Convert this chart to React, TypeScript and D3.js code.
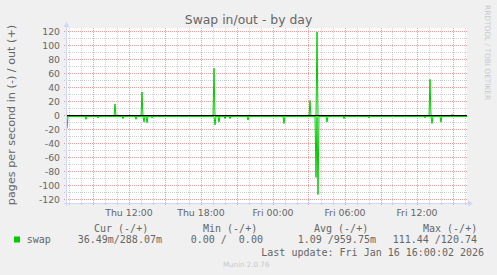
import React from "react";
import * as d3 from "d3";

// ---- data ----
const startTime = "2026-01-15 06:50";
const endTime = "2026-01-16 16:10";
const yTicks = [120, 100, 80, 60, 40, 20, 0, -20, -40, -60, -80, -100, -120];
const xLabelTimes = ["2026-01-15 12:00", "2026-01-15 18:00", "2026-01-16 00:00", "2026-01-16 06:00", "2026-01-16 12:00"];

// swap out (+), pages per second, non-zero samples
const outTimes = ["2026-01-15 10:50", "2026-01-15 13:05", "2026-01-15 19:05", "2026-01-16 03:05", "2026-01-16 03:40", "2026-01-16 13:05", "2026-01-16 14:55", "2026-01-16 15:10"];
const outValues = [18, 35, 69, 23, 120.74, 53, 3, 2];

// swap in (-), pages per second, non-zero samples
const inTimes = ["2026-01-15 06:50", "2026-01-15 08:25", "2026-01-15 09:25", "2026-01-15 11:30", "2026-01-15 12:35", "2026-01-15 13:15", "2026-01-15 13:30", "2026-01-15 13:55", "2026-01-15 19:10", "2026-01-15 19:30", "2026-01-15 20:00", "2026-01-15 20:25", "2026-01-15 21:55", "2026-01-16 00:55", "2026-01-16 03:35", "2026-01-16 03:45", "2026-01-16 04:30", "2026-01-16 05:55", "2026-01-16 08:00", "2026-01-16 12:40", "2026-01-16 13:15", "2026-01-16 14:00"];
const inValues = [17, 4, 2, 3, 4, 8, 9, 2, 12, 8, 3, 3, 5, 10, 87, 111.44, 8, 3, 2, 2, 10, 8];

const legendHeaders = ["Cur (-/+)", "Min (-/+)", "Avg (-/+)", "Max (-/+)"];
const legendValues = ["36.49m/288.07m", "0.00 /  0.00", "1.09 /959.75m", "111.44 /120.74"];
const seriesName = "swap";
const title = "Swap in/out - by day";
const yLabel = "pages per second in (-) / out (+)";
const lastUpdate = "Last update: Fri Jan 16 16:00:02 2026";

// ---- helpers ----
const parse = d3.timeParse("%Y-%m-%d %H:%M");
const t0 = parse(startTime)!;
const t1 = parse(endTime)!;

function buildSeries(times: string[], values: number[]) {
  const m = new Map<number, number>();
  times.forEach((t, i) => m.set(parse(t)!.getTime(), values[i]));
  return d3.timeMinute.every(5)!.range(t0, new Date(t1.getTime() + 1)).map((d) => ({
    t: d,
    v: m.get(d.getTime()) ?? 0,
  }));
}

const GREEN = "#00CC00";
const FONT = "DejaVu Sans, sans-serif";
const MONO = "DejaVu Sans Mono, monospace";
const TXT = "#666666";
const AXIS = "#CFD6F8";
const MGRID = "rgba(224,80,80,0.55)";
const GRID = "rgba(128,128,128,0.36)";

export default function App() {
  const L = 67, R = 467, T = 28, B = 203;
  const x = d3.scaleTime().domain([t0, t1]).range([L, R]);
  const y = d3.scaleLinear().domain([-125, 125]).range([B, T]);

  const outSeries = buildSeries(outTimes, outValues);
  const inSeries = buildSeries(inTimes, inValues);

  const lineOut = d3.line<{ t: Date; v: number }>().x((d) => x(d.t)).y((d) => y(d.v));
  const lineIn = d3.line<{ t: Date; v: number }>().x((d) => x(d.t)).y((d) => y(-d.v));

  const hours = d3.timeHour.range(t0, t1);
  const minorX = hours.filter((h) => h.getHours() % 3 !== 0);
  const majorX = hours.filter((h) => h.getHours() % 3 === 0);
  const minorY = d3.range(-120, 121, 10).filter((v) => v % 20 !== 0);
  const majorY = yTicks;
  const fmt = d3.timeFormat("%a %H:%M");
  const snap = (v: number) => Math.floor(v) + 0.5;

  const legendHeaderX = [94, 203, 314, 423];
  const legendValueX = [77.7, 190.7, 297.7, 392.7];

  return (
    <svg width={497} height={275} style={{ position: "fixed", left: 0, top: 0, display: "block" }}>
      <rect x={0} y={0} width={497} height={275} fill="#F0F0F0" />
      <rect x={L} y={T} width={R - L} height={B - T} fill="#FFFFFF" />

      {/* minor grid */}
      {minorX.map((h, i) => (
        <line key={"mx" + i} x1={snap(x(h))} x2={snap(x(h))} y1={T} y2={B + 3} stroke={GRID} strokeDasharray="1,1" />
      ))}
      {minorY.map((v, i) => (
        <line key={"my" + i} x1={L - 3} x2={R} y1={snap(y(v))} y2={snap(y(v))} stroke={GRID} strokeDasharray="1,1" />
      ))}
      {/* major grid */}
      {majorX.map((h, i) => (
        <line key={"Mx" + i} x1={snap(x(h))} x2={snap(x(h))} y1={T} y2={B + 3} stroke={MGRID} strokeDasharray="1,1" />
      ))}
      {majorY.map((v, i) => (
        <line key={"My" + i} x1={L - 3} x2={R} y1={snap(y(v))} y2={snap(y(v))} stroke={MGRID} strokeDasharray="1,1" />
      ))}

      {/* data */}
      <g transform="translate(0,1)">
        <path d={lineIn(inSeries) || ""} fill="none" stroke={GREEN} strokeWidth={1} />
        <path d={lineOut(outSeries) || ""} fill="none" stroke={GREEN} strokeWidth={1} />
      </g>
      {/* zero line */}
      <line x1={L} x2={R} y1={snap(y(0))} y2={snap(y(0))} stroke="#000" strokeWidth={1} />

      {/* axes */}
      <line x1={L - 0.5} x2={L - 0.5} y1={B + 3} y2={T - 2} stroke={AXIS} />
      <line x1={L - 3} x2={R + 2} y1={B + 0.5} y2={B + 0.5} stroke={AXIS} />
      <path d={`M${L - 3.5},${T - 1} L${L + 2.5},${T - 1} L${L - 0.5},${T - 6} Z`} fill={AXIS} />
      <path d={`M${R + 1},${B - 2.5} L${R + 1},${B + 3.5} L${R + 6},${B + 0.5} Z`} fill={AXIS} />

      {/* y tick labels */}
      {yTicks.map((v) => (
        <text key={"yt" + v} x={60} y={snap(y(v)) + 3.3} textAnchor="end" fontFamily={FONT} fontSize={9.3} fill={TXT}>
          {v}
        </text>
      ))}
      {/* x tick labels */}
      {xLabelTimes.map((s) => {
        const d = parse(s)!;
        return (
          <text key={s} x={x(d)} y={215.5} textAnchor="middle" fontFamily={FONT} fontSize={9.4} fill={TXT}>
            {fmt(d)}
          </text>
        );
      })}

      {/* title */}
      <text x={248.5} y={24} textAnchor="middle" fontFamily={FONT} fontSize={12.4} fill={TXT}>
        {title}
      </text>
      {/* y label */}
      <text transform="translate(15,115) rotate(-90)" textAnchor="middle" fontFamily={FONT} fontSize={11.2} fill={TXT}>
        {yLabel}
      </text>
      {/* watermark */}
      <text transform="translate(484.5,5) rotate(90)" textAnchor="start" fontFamily={FONT} fontSize={7.4} fill="#C8C8C8">
        RRDTOOL / TOBI OETIKER
      </text>

      {/* legend */}
      {legendHeaders.map((h, i) => (
        <text key={h} x={legendHeaderX[i]} y={231.5} fontFamily={MONO} fontSize={10} fill={TXT} style={{ whiteSpace: "pre" }}>
          {h}
        </text>
      ))}
      <rect x={14} y={236.5} width={6} height={6} fill={GREEN} />
      <text x={26.7} y={243} fontFamily={MONO} fontSize={10} fill={TXT}>
        {seriesName}
      </text>
      {legendValues.map((v, i) => (
        <text key={"lv" + i} x={legendValueX[i]} y={243} fontFamily={MONO} fontSize={10} fill={TXT} style={{ whiteSpace: "pre" }}>
          {v}
        </text>
      ))}
      <text x={261.3} y={255.5} fontFamily={MONO} fontSize={10} fill={TXT}>
        {lastUpdate}
      </text>
      <text x={223} y={267} fontFamily={FONT} fontSize={7.1} fill="#C8C8C8">
        Munin 2.0.76
      </text>
    </svg>
  );
}
